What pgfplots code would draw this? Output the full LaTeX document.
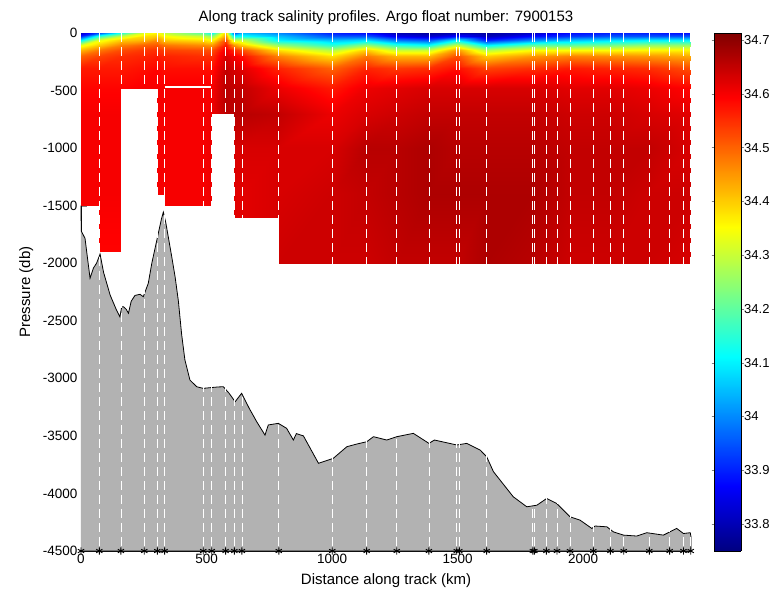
\documentclass[border=0pt]{standalone}
\usepackage{fontspec}
\setmainfont{Liberation Sans}
\usepackage{pgfplots}
\usepackage{pgfplotstable}
\pgfplotsset{compat=1.18}

% float stations (km), drawn at the bottom of the section
\pgfplotstableread{
x y
0 -4500
73 -4500
159 -4500
252 -4500
304 -4500
333 -4500
487 -4500
521 -4500
576 -4500
611 -4500
641 -4500
788 -4500
1001 -4500
1138 -4500
1258 -4500
1386 -4500
1497 -4500
1507 -4500
1616 -4500
1800 -4500
1806 -4500
1854 -4500
1896 -4500
1948 -4500
2041 -4500
2109 -4500
2162 -4500
2264 -4500
2345 -4500
2400 -4500
2429 -4500
}\stations

% bathymetry along track (km, db); last two rows close the patch
\pgfplotstableread{
x y
0 -1500
1 -1720
16 -1784
36 -2130
50 -2040
62 -2000
76 -1920
90 -2080
116 -2276
140 -2400
155 -2465
162 -2380
169 -2378
180 -2400
189 -2435
200 -2330
215 -2280
235 -2270
248 -2291
268 -2175
282 -2001
308 -1740
320 -1620
328 -1556
338 -1650
350 -1800
362 -1950
375 -2120
388 -2330
401 -2620
414 -2841
434 -3015
461 -3073
487 -3087
520 -3080
545 -3075
567 -3073
590 -3130
614 -3203
640 -3130
670 -3260
700 -3377
733 -3493
746 -3405
786 -3391
819 -3434
846 -3536
858 -3480
886 -3500
946 -3738
1005 -3695
1059 -3594
1100 -3570
1138 -3551
1165 -3507
1218 -3536
1258 -3507
1324 -3478
1386 -3565
1408 -3536
1497 -3579
1537 -3565
1590 -3623
1616 -3681
1643 -3811
1722 -4029
1776 -4116
1816 -4102
1855 -4044
1895 -4087
1948 -4203
1988 -4232
2035 -4304
2048 -4283
2095 -4290
2121 -4334
2161 -4362
2214 -4370
2254 -4341
2320 -4362
2373 -4304
2400 -4348
2427 -4341
2430 -4376
2430 -4500
0 -4500
}\bathy

% salinity blocks, one column per station (y varies)
\pgfplotstableread{
x y s
0 0 33.82
0 -30 33.90
0 -60 34.10
0 -100 34.33
0 -150 34.42
0 -200 34.50
0 -300 34.57
0 -480 34.59
0 -700 34.60
0 -1000 34.60
0 -1500 34.60
73 0 33.95
73 -30 34.15
73 -60 34.33
73 -100 34.40
73 -150 34.48
73 -200 34.53
73 -300 34.57
73 -480 34.59
73 -700 34.60
73 -1000 34.60
73 -1500 34.60
}\blockA

\pgfplotstableread{
x y s
73 0 33.95
73 -30 34.15
73 -60 34.33
73 -100 34.40
73 -150 34.48
73 -200 34.53
73 -300 34.57
73 -480 34.59
73 -700 34.60
73 -1000 34.60
73 -1400 34.60
73 -1900 34.59
159 0 34.15
159 -30 34.30
159 -60 34.40
159 -100 34.47
159 -150 34.52
159 -200 34.55
159 -300 34.57
159 -480 34.59
159 -700 34.60
159 -1000 34.60
159 -1400 34.60
159 -1900 34.59
}\blockB

\pgfplotstableread{
x y s
159 0 34.15
159 -30 34.30
159 -60 34.40
159 -100 34.47
159 -150 34.52
159 -200 34.55
159 -300 34.57
159 -480 34.59
252 0 34.33
252 -30 34.38
252 -60 34.42
252 -100 34.50
252 -150 34.54
252 -200 34.56
252 -300 34.58
252 -480 34.60
304 0 34.36
304 -30 34.40
304 -60 34.46
304 -100 34.51
304 -150 34.55
304 -200 34.57
304 -300 34.59
304 -480 34.60
}\blockC

\pgfplotstableread{
x y s
304 0 34.36
304 -30 34.40
304 -60 34.46
304 -100 34.51
304 -150 34.55
304 -200 34.57
304 -300 34.59
304 -480 34.60
304 -700 34.60
304 -1000 34.60
304 -1400 34.60
333 0 34.30
333 -30 34.35
333 -60 34.40
333 -100 34.48
333 -150 34.53
333 -200 34.56
333 -300 34.58
333 -480 34.60
333 -700 34.60
333 -1000 34.60
333 -1400 34.60
}\blockD

\pgfplotstableread{
x y s
333 0 34.30
333 -30 34.35
333 -60 34.40
333 -100 34.48
333 -150 34.53
333 -200 34.56
333 -300 34.58
333 -480 34.60
333 -700 34.60
333 -1000 34.60
333 -1500 34.60
487 0 34.20
487 -30 34.30
487 -60 34.38
487 -100 34.46
487 -150 34.52
487 -200 34.55
487 -300 34.58
487 -480 34.60
487 -700 34.60
487 -1000 34.60
487 -1500 34.60
521 0 34.12
521 -30 34.25
521 -60 34.35
521 -100 34.45
521 -150 34.52
521 -200 34.55
521 -300 34.58
521 -480 34.60
521 -700 34.61
521 -1000 34.61
521 -1500 34.61
}\blockE

\pgfplotstableread{
x y s
521 0 34.12
521 -30 34.25
521 -60 34.35
521 -100 34.45
521 -150 34.52
521 -200 34.55
521 -300 34.58
521 -480 34.60
521 -700 34.61
576 0 34.40
576 -30 34.45
576 -60 34.52
576 -100 34.57
576 -150 34.61
576 -200 34.63
576 -300 34.65
576 -480 34.66
576 -700 34.66
611 0 33.95
611 -30 34.10
611 -60 34.30
611 -100 34.45
611 -150 34.55
611 -200 34.60
611 -300 34.63
611 -480 34.65
611 -700 34.66
}\blockF

\pgfplotstableread{
x y s
611 0 33.95
611 -30 34.10
611 -60 34.30
611 -100 34.45
611 -150 34.55
611 -200 34.60
611 -300 34.63
611 -480 34.65
611 -700 34.66
611 -1000 34.63
611 -1400 34.62
611 -1600 34.62
641 0 34.05
641 -30 34.12
641 -60 34.30
641 -100 34.40
641 -150 34.52
641 -200 34.58
641 -300 34.62
641 -480 34.65
641 -700 34.66
641 -1000 34.63
641 -1400 34.62
641 -1600 34.62
788 0 34.00
788 -30 34.05
788 -60 34.10
788 -100 34.25
788 -150 34.38
788 -200 34.47
788 -300 34.56
788 -480 34.61
788 -700 34.65
788 -1000 34.63
788 -1400 34.63
788 -1600 34.63
}\blockG

\pgfplotstableread{
x y s
788 0 34.00
788 -30 34.05
788 -60 34.10
788 -100 34.25
788 -150 34.38
788 -200 34.47
788 -300 34.56
788 -480 34.61
788 -700 34.65
788 -1000 34.63
788 -1400 34.63
788 -2000 34.64
1001 0 33.90
1001 -30 33.95
1001 -60 34.05
1001 -100 34.15
1001 -150 34.28
1001 -200 34.38
1001 -300 34.50
1001 -480 34.57
1001 -700 34.61
1001 -1000 34.63
1001 -1400 34.64
1001 -2000 34.64
1138 0 33.88
1138 -30 33.95
1138 -60 34.08
1138 -100 34.25
1138 -150 34.40
1138 -200 34.48
1138 -300 34.56
1138 -480 34.61
1138 -700 34.63
1138 -1000 34.66
1138 -1400 34.65
1138 -2000 34.64
1258 0 33.80
1258 -30 33.85
1258 -60 33.98
1258 -100 34.15
1258 -150 34.30
1258 -200 34.42
1258 -300 34.54
1258 -480 34.62
1258 -700 34.64
1258 -1000 34.66
1258 -1400 34.66
1258 -2000 34.65
1386 0 33.78
1386 -30 33.82
1386 -60 33.95
1386 -100 34.12
1386 -150 34.30
1386 -200 34.42
1386 -300 34.55
1386 -480 34.63
1386 -700 34.65
1386 -1000 34.67
1386 -1400 34.67
1386 -2000 34.65
1497 0 33.80
1497 -30 33.88
1497 -60 34.10
1497 -100 34.30
1497 -150 34.45
1497 -200 34.52
1497 -300 34.58
1497 -480 34.63
1497 -700 34.65
1497 -1000 34.66
1497 -1400 34.67
1497 -2000 34.65
1616 0 33.78
1616 -30 33.80
1616 -60 33.90
1616 -100 34.10
1616 -150 34.28
1616 -200 34.40
1616 -300 34.53
1616 -480 34.63
1616 -700 34.65
1616 -1000 34.66
1616 -1400 34.67
1616 -2000 34.67
1800 0 33.82
1800 -30 33.88
1800 -60 34.00
1800 -100 34.20
1800 -150 34.35
1800 -200 34.45
1800 -300 34.55
1800 -480 34.63
1800 -700 34.65
1800 -1000 34.66
1800 -1400 34.67
1800 -2000 34.66
1948 0 33.88
1948 -30 33.92
1948 -60 34.05
1948 -100 34.20
1948 -150 34.35
1948 -200 34.47
1948 -300 34.57
1948 -480 34.62
1948 -700 34.64
1948 -1000 34.65
1948 -1400 34.65
1948 -2000 34.64
2109 0 33.90
2109 -30 33.95
2109 -60 34.08
2109 -100 34.22
2109 -150 34.35
2109 -200 34.46
2109 -300 34.56
2109 -480 34.62
2109 -700 34.64
2109 -1000 34.65
2109 -1400 34.65
2109 -2000 34.64
2264 0 33.90
2264 -30 33.95
2264 -60 34.10
2264 -100 34.25
2264 -150 34.36
2264 -200 34.45
2264 -300 34.55
2264 -480 34.61
2264 -700 34.63
2264 -1000 34.65
2264 -1400 34.64
2264 -2000 34.64
2429 0 33.88
2429 -30 33.95
2429 -60 34.10
2429 -100 34.25
2429 -150 34.36
2429 -200 34.43
2429 -300 34.52
2429 -480 34.59
2429 -700 34.62
2429 -1000 34.63
2429 -1400 34.64
2429 -2000 34.63
}\blockH

\begin{document}
\begin{tikzpicture}
% page = reference frame: axis box 610 x 518 bp, placed at (0,0)
\path[use as bounding box] (-81bp,-41bp) rectangle (690bp,551bp);
\begin{axis}[
    name=ax, at={(0,0)}, anchor=south west,
    width=610bp, height=518bp, scale only axis,
    xmin=0, xmax=2430, ymin=-4500, ymax=0,
    enlargelimits=false, clip=false,
    axis x line*=bottom, axis y line*=left,
    tick align=inside, major tick length=6bp,
    xtick={0,500,1000,1500,2000},
    ytick={-4500,-4000,-3500,-3000,-2500,-2000,-1500,-1000,-500,0},
    scaled ticks=false,
    /pgf/number format/1000 sep={},
    /pgf/number format/assume math mode=true,
    tick label style={font=\fontsize{13.5bp}{16bp}\selectfont},
    label style={font=\fontsize{15bp}{18bp}\selectfont},
    title style={font=\fontsize{15bp}{18bp}\selectfont, yshift=-1.5bp},
    title={Along track salinity profiles. Argo float number: 7900153},
    xlabel={Distance along track (km)},
    ylabel={Pressure (db)},
    xlabel style={yshift=-3bp},
    ylabel style={yshift=3bp},
    colormap/jet,
    point meta min=33.75, point meta max=34.713,
    colorbar sampled={surf, mark=none, shader=interp},
    colorbar shift/.style={xshift=23bp},
    colorbar style={
        at={(parent axis.north east)}, anchor=north west,
        width=27bp, samples=97,
        ytick={33.8,33.9,34,34.1,34.2,34.3,34.4,34.5,34.6,34.7},
        ytick pos=both, yticklabel pos=right,
        yticklabel style={font=\fontsize{13bp}{15bp}\selectfont,
            inner xsep=0.5bp,
            /pgf/number format/assume math mode=true,
            /pgf/number format/fixed, /pgf/number format/precision=1},
        tick align=outside, major tick length=2.5bp,
    },
    surfblock/.style={surf, shader=interp, mesh/ordering=y varies, point meta=explicit},
]

\addplot[surfblock, mesh/rows=11] table[meta=s] {\blockA};
\addplot[surfblock, mesh/rows=12] table[meta=s] {\blockB};
\addplot[surfblock, mesh/rows=8] table[meta=s] {\blockC};
\addplot[surfblock, mesh/rows=11] table[meta=s] {\blockD};
\addplot[surfblock, mesh/rows=11] table[meta=s] {\blockE};
\addplot[surfblock, mesh/rows=9] table[meta=s] {\blockF};
\addplot[surfblock, mesh/rows=12] table[meta=s] {\blockG};
\addplot[surfblock, mesh/rows=12] table[meta=s] {\blockH};

% missing level in the profiles near 470 db
\addplot[white, line width=1.2bp] coordinates {(333,-470) (518,-470)};

% sea floor
\addplot[fill=black!30, draw=none] table {\bathy};
\addplot[black, line width=0.8bp] table {\bathy};

% station positions
\addplot[ycomb, white, line width=0.8bp, dash pattern=on 9bp off 5bp,
    skip coords between index={0}{1}] table {\stations};
\addplot[only marks, black, mark=asterisk, mark size=3.6bp,
    mark options={line width=0.9bp}] table {\stations};

\end{axis}
\end{tikzpicture}
\end{document}
